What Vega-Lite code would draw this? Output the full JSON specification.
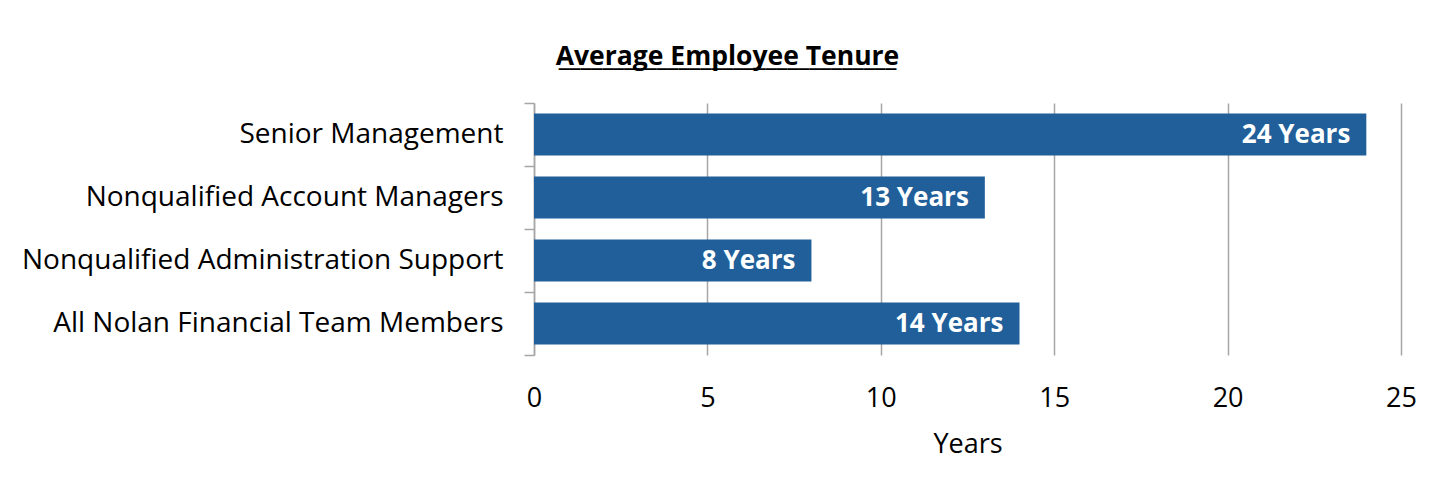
{
  "$schema": "https://vega.github.io/schema/vega-lite/v6.json",
  "width": 867,
  "height": 252,
  "autosize": "none",
  "padding": {"left": 534, "top": 103, "right": 49, "bottom": 131},
  "background": "white",
  "config": {"view": {"stroke": null}},
  "title": {
    "text": "Average Employee Tenure",
    "subtitle": "_______________________________",
    "font": "Open Sans",
    "fontSize": 26.5,
    "fontWeight": "bold",
    "color": "black",
    "subtitleFont": "Open Sans",
    "subtitleFontSize": 26.5,
    "subtitleFontWeight": "bold",
    "subtitleColor": "black",
    "subtitlePadding": -26,
    "anchor": "middle",
    "dx": -240,
    "offset": 18
  },
  "data": {
    "values": [
      {"group": "Senior Management", "years": 24, "label": "24 Years"},
      {"group": "Nonqualified Account Managers", "years": 13, "label": "13 Years"},
      {"group": "Nonqualified Administration Support", "years": 8, "label": "8 Years"},
      {"group": "All Nolan Financial Team Members", "years": 14, "label": "14 Years"}
    ]
  },
  "encoding": {
    "y": {
      "field": "group",
      "type": "nominal",
      "sort": null,
      "scale": {"paddingInner": 0, "paddingOuter": 0},
      "axis": {
        "title": null,
        "grid": false,
        "domainColor": "#a6a6a6",
        "domainWidth": 1.5,
        "tickColor": "#a6a6a6",
        "tickWidth": 1.5,
        "tickSize": 10,
        "tickBand": "extent",
        "labelFont": "Open Sans",
        "labelFontSize": 28,
        "labelColor": "black",
        "labelPadding": 21,
        "labelLimit": 600
      }
    },
    "x": {
      "field": "years",
      "type": "quantitative",
      "scale": {"domain": [0, 25], "nice": false},
      "axis": {
        "title": "Years",
        "titleFont": "Open Sans",
        "titleFontSize": 27,
        "titleFontWeight": "normal",
        "titleColor": "black",
        "titlePadding": 20,
        "values": [0, 5, 10, 15, 20, 25],
        "grid": true,
        "gridColor": "#a6a6a6",
        "gridWidth": 1.5,
        "ticks": false,
        "domain": false,
        "labelFlush": false,
        "labelFont": "Open Sans",
        "labelFontSize": 27,
        "labelColor": "black",
        "labelPadding": 30
      }
    }
  },
  "layer": [
    {
      "mark": {"type": "bar", "color": "#215f9a", "height": {"band": 0.667}}
    },
    {
      "mark": {
        "type": "text",
        "align": "right",
        "dx": -16,
        "color": "white",
        "font": "Open Sans",
        "fontSize": 26,
        "fontWeight": "bold"
      },
      "encoding": {"text": {"field": "label"}}
    }
  ]
}
